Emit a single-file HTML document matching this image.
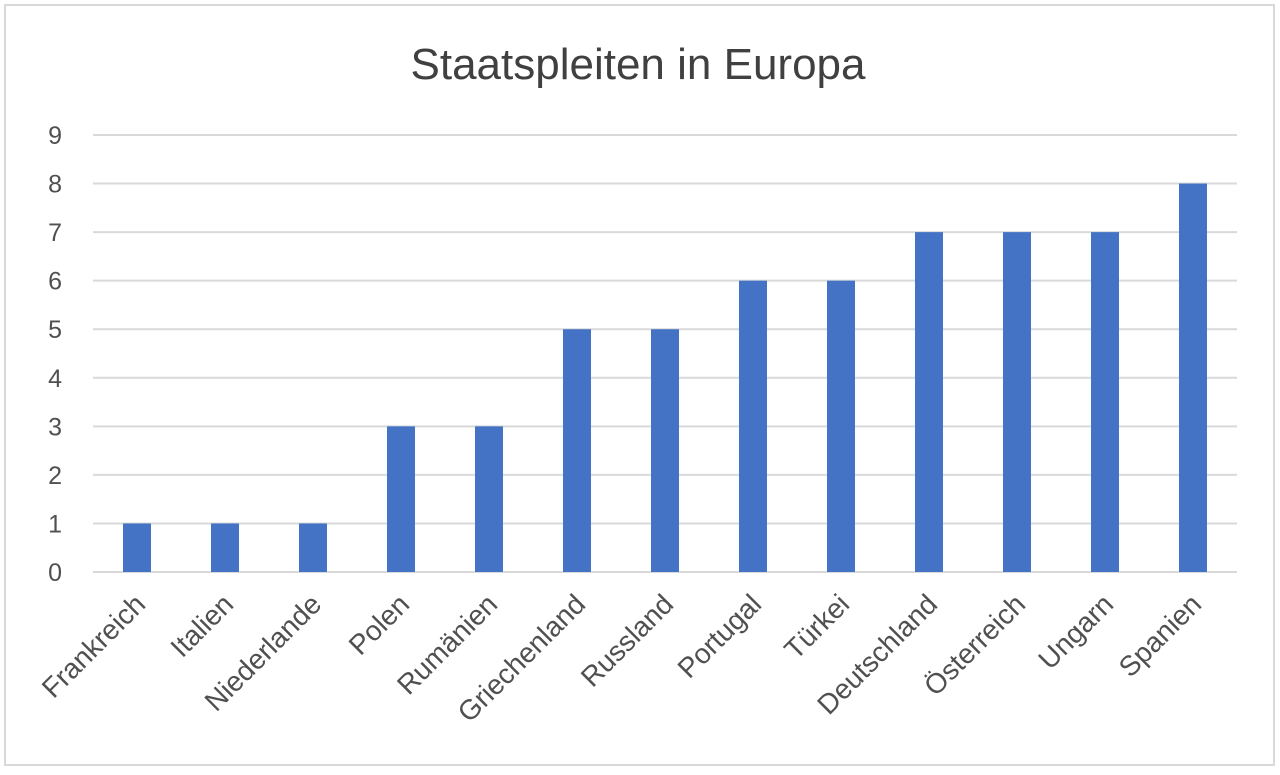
<!DOCTYPE html>
<html><head><meta charset="utf-8"><style>
body{margin:0;background:#fff;width:1280px;height:770px;overflow:hidden;font-family:"Liberation Sans",sans-serif}
</style></head><body>
<svg width="1280" height="770">
<rect x="5" y="5" width="1269" height="760" fill="#fff" stroke="#d9d9d9" stroke-width="2"/>
<text x="638" y="79" text-anchor="middle" font-size="44" fill="#404040">Staatspleiten in Europa</text>
<g id="grid"></g><g id="bars"></g><g id="labels"></g>
</svg>
<script>
const categories=["Frankreich","Italien","Niederlande","Polen","Rumänien","Griechenland","Russland","Portugal","Türkei","Deutschland","Österreich","Ungarn","Spanien"];
const values=[1,1,1,3,3,5,5,6,6,7,7,7,8];
const ticks=[0,1,2,3,4,5,6,7,8,9];
const NS="http://www.w3.org/2000/svg";
const x0=93,x1=1237,yb=572,yt=135,ymax=9;
const bw=(x1-x0)/categories.length;
const y=v=>yb-(yb-yt)*v/ymax;
const xc=i=>x0+bw*(i+0.5);
function mk(t,a,p){const e=document.createElementNS(NS,t);for(const k in a)e.setAttribute(k,a[k]);p.appendChild(e);return e;}
const g=document.getElementById('grid'),b=document.getElementById('bars'),l=document.getElementById('labels');
ticks.forEach(t=>{
 const ln=mk('line',{x1:x0,x2:x1,y1:y(t),y2:y(t),stroke:'#d9d9d9','stroke-width':2},g);
 
 
 const tx=mk('text',{x:62,y:y(t)+9,'text-anchor':'end','font-size':25,fill:'#505050'},g);
 tx.textContent=t;
 
 
});
values.forEach((v,i)=>{
 const r=mk('rect',{x:xc(i)-14,y:y(v),width:28,height:yb-y(v),fill:'#4472c4'},b);
 
 
 const tx=mk('text',{x:0,y:0,'text-anchor':'end','font-size':28,fill:'#505050',transform:`translate(${xc(i)+10},${yb+34}) rotate(-45)`},l);
 tx.textContent=categories[i];
 
 
});
</script>
</body></html>
